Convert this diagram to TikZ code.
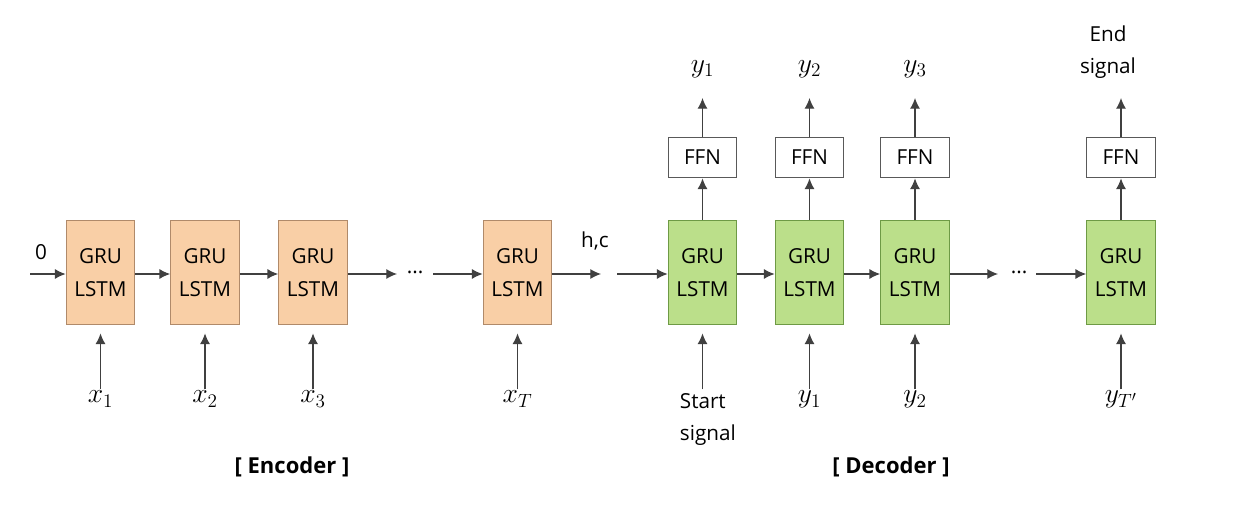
\documentclass[tikz,border=0pt]{standalone}
\usepackage{fontspec}
\setmainfont{Open Sans}
\usetikzlibrary{arrows.meta}
\definecolor{encfill}{HTML}{F9CFA6}
\definecolor{encdraw}{HTML}{B08A6A}
\definecolor{decfill}{HTML}{BBDF8A}
\definecolor{decdraw}{HTML}{6E9A45}
\definecolor{arr}{HTML}{404040}
\begin{document}
\begin{tikzpicture}[x=0.75pt,y=-0.75pt,
  txt/.style={font=\fontsize{15.5}{18}\selectfont, text=black, inner sep=0pt},
  mth/.style={font=\fontsize{22}{24}\selectfont, inner sep=0pt},
  cell/.style={draw, line width=0.8pt, minimum width=51.5pt, minimum height=78.5pt, align=center, txt, font=\fontsize{15.5}{25}\selectfont},
  enc/.style={cell, fill=encfill, draw=encdraw},
  dec/.style={cell, fill=decfill, draw=decdraw},
  ffn/.style={draw=gray!70!black, line width=0.8pt, fill=white, minimum width=51.5pt, minimum height=30.5pt, txt},
  ar/.style={draw=arr, line width=0.9pt, -{Latex[length=8pt,width=7.5pt]}},
  ttl/.style={font=\fontsize{16.5}{18}\selectfont\bfseries, inner sep=0pt}
]
\useasboundingbox (0,0) rectangle (1256,528);
% encoder cells
\node[enc] (e1) at (100.5,272.5) {GRU\\LSTM};
\node[enc] (e2) at (205,272.5) {GRU\\LSTM};
\node[enc] (e3) at (313,272.5) {GRU\\LSTM};
\node[enc] (e4) at (517.5,272.5) {GRU\\LSTM};
% decoder cells
\node[dec] (d1) at (702.5,272.5) {GRU\\LSTM};
\node[dec] (d2) at (809.5,272.5) {GRU\\LSTM};
\node[dec] (d3) at (915,272.5) {GRU\\LSTM};
\node[dec] (d4) at (1121,272.5) {GRU\\LSTM};
% FFN
\node[ffn] (f1) at (702.5,157.5) {FFN};
\node[ffn] (f2) at (809.5,157.5) {FFN};
\node[ffn] (f3) at (915,157.5) {FFN};
\node[ffn] (f4) at (1121,157.5) {FFN};
% coordinates
\coordinate (in0) at (30,274);
\coordinate (e3o) at (397,274);
\node[txt] (dots1) at (415,272) {...};
\coordinate (e4i) at (433,274);
\coordinate (hco) at (601,274);
\node[txt, anchor=south] (hc) at (595,250) {h,c};
\coordinate (d1i) at (617,274);
\coordinate (d3o) at (998,274);
\node[txt] (dots2) at (1019,272) {...};
\coordinate (d4i) at (1036,274);
\node[txt, anchor=south] (zero) at (41,260) {0};
% horizontal arrows
\draw[ar] (in0) -- (e1.west |- in0);
\draw[ar] (e1.east |- in0) -- (e2.west |- in0);
\draw[ar] (e2.east |- in0) -- (e3.west |- in0);
\draw[ar] (e3.east |- in0) -- (e3o);
\draw[ar] (e4i) -- (e4.west |- in0);
\draw[ar] (e4.east |- in0) -- (hco);
\draw[ar] (d1i) -- (d1.west |- in0);
\draw[ar] (d1.east |- in0) -- (d2.west |- in0);
\draw[ar] (d2.east |- in0) -- (d3.west |- in0);
\draw[ar] (d3.east |- in0) -- (d3o);
\draw[ar] (d4i) -- (d4.west |- in0);
% encoder inputs
\foreach \n/\lab in {e1/x_1, e2/x_2, e3/x_3, e4/x_T}{
  \coordinate (\n s) at ([yshift=-48pt]\n.south);
  \node[mth, anchor=north] (\n l) at ([yshift=-1pt]\n s) {$\lab$};
  \draw[ar] (\n s) -- ([yshift=-6pt]\n.south);
}
% decoder inputs
\foreach \i in {1,2,3,4}{
  \coordinate (d\i s) at ([yshift=-48pt]d\i.south);
  \draw[ar] (d\i s) -- ([yshift=-6pt]d\i.south);
  \draw[ar] (d\i.north) -- (f\i.south);
}
\node[txt, align=left, anchor=north, font=\fontsize{15.5}{24}\selectfont] (start) at ([xshift=4pt,yshift=-3pt]d1s) {Start\\signal};
\node[mth, anchor=north] (d2l) at ([yshift=-1pt]d2s) {$y_1$};
\node[mth, anchor=north] (d3l) at ([yshift=-1pt]d3s) {$y_2$};
\node[mth, anchor=north] (d4l) at ([yshift=-1pt]d4s) {$y_{T'}$};
% outputs
\foreach \n/\lab in {1/y_1, 2/y_2, 3/y_3}{
  \coordinate (o\n) at (f\n.north |- 0,98);
  \draw[ar] (f\n.north) -- (o\n);
  \node[mth, anchor=south] (ol\n) at ([yshift=15pt]o\n) {$\lab$};
}
\coordinate (o4) at (f4.north |- 0,98);
\draw[ar] (f4.north) -- (o4);
\node[txt, align=center, font=\fontsize{15.5}{24}\selectfont] (endsig) at (1108,52) {End\\signal};
% titles
\node[ttl] (enct) at (292,467) {[ Encoder ]};
\node[ttl] (dect) at (891,467) {[ Decoder ]};
\end{tikzpicture}
\end{document}
